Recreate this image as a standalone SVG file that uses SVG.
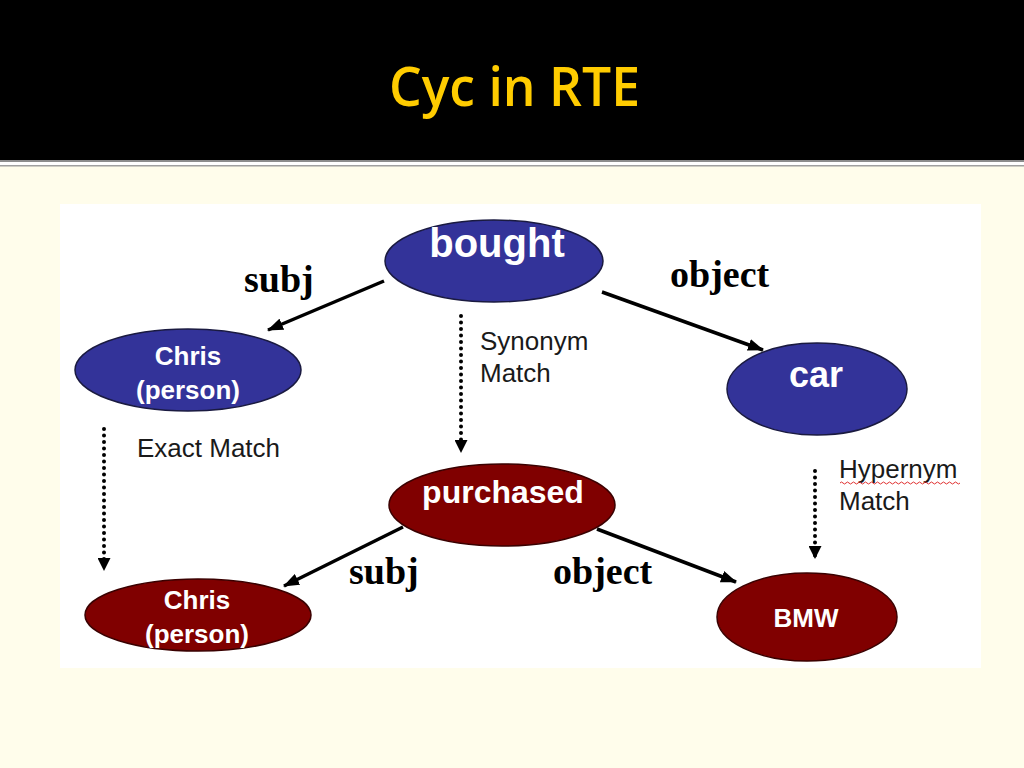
<svg xmlns="http://www.w3.org/2000/svg" width="1024" height="768" viewBox="0 0 1024 768">
<defs>
<style>
.blue{fill:#333399;stroke:#1a1a40;stroke-width:1.5}
.red{fill:#800000;stroke:#3a0000;stroke-width:1.5}
.nt{font-family:"Liberation Sans",Arial,sans-serif;font-weight:bold;fill:#ffffff;text-anchor:middle}
.rel{font-family:"Liberation Serif","Times New Roman",serif;font-weight:bold;font-size:38px;fill:#000000}
.note{font-family:"Liberation Sans",Arial,sans-serif;font-size:26px;fill:#1a1a1a}
.solid{stroke:#000000;stroke-width:3.5;fill:none;marker-end:url(#ah)}
.dot{stroke:#000000;stroke-width:4;fill:none;stroke-dasharray:0 6.5;stroke-linecap:round;marker-end:url(#dh)}
</style>
<marker id="ah" viewBox="0 0 16 12" refX="15" refY="6" markerWidth="16" markerHeight="12" markerUnits="userSpaceOnUse" orient="auto">
<path d="M0,0 L16,6 L0,12 Z" fill="#000000"/>
</marker>
<marker id="dh" viewBox="0 0 13 13" refX="12" refY="6.5" markerWidth="13" markerHeight="13" markerUnits="userSpaceOnUse" orient="auto">
<path d="M0,0 L13,6.5 L0,13 Z" fill="#000000"/>
</marker>
</defs>
<rect x="0" y="0" width="1024" height="768" fill="#fffdeb"/>
<rect x="0" y="0" width="1024" height="160" fill="#000000"/>
<rect x="0" y="160" width="1024" height="2" fill="#8c8c8c"/>
<rect x="0" y="162" width="1024" height="3" fill="#ffffff"/>
<rect x="0" y="165" width="1024" height="1.5" fill="#a0a0a0"/>
<text x="389" y="106" font-family="'Open Sans','Noto Sans',sans-serif" font-size="54" font-weight="600" fill="#ffcc00" textLength="251" lengthAdjust="spacingAndGlyphs">Cyc in RTE</text>
<rect x="60" y="204" width="921" height="464" fill="#ffffff"/>

<g id="connectors">
<line class="solid" x1="384" y1="281" x2="268" y2="330"/>
<line class="solid" x1="602" y1="292" x2="763" y2="350"/>
<line class="solid" x1="403" y1="527" x2="284" y2="586"/>
<line class="solid" x1="597" y1="529" x2="736" y2="582"/>
<line class="dot" x1="461" y1="316" x2="461" y2="452"/>
<line class="dot" x1="104" y1="429" x2="104" y2="570"/>
<line class="dot" x1="815" y1="471" x2="815" y2="558"/>
</g>

<g id="labels">
<text class="rel" x="244" y="292">subj</text>
<text class="rel" x="670" y="287">object</text>
<text class="rel" x="349" y="584">subj</text>
<text class="rel" x="553" y="584">object</text>
<text class="note" x="480" y="350">Synonym</text>
<text class="note" x="480" y="382">Match</text>
<text class="note" x="137" y="457">Exact Match</text>
<text class="note" x="839" y="478">Hypernym</text>
<text class="note" x="839" y="510">Match</text>
<path d="M840,483 q1.5,-2 3,0 t3,0 t3,0 t3,0 t3,0 t3,0 t3,0 t3,0 t3,0 t3,0 t3,0 t3,0 t3,0 t3,0 t3,0 t3,0 t3,0 t3,0 t3,0 t3,0 t3,0 t3,0 t3,0 t3,0 t3,0 t3,0 t3,0 t3,0 t3,0 t3,0 t3,0 t3,0 t3,0 t3,0 t3,0 t3,0 t3,0 t3,0 t3,0 t3,0" fill="none" stroke="#e03030" stroke-width="1"/>
</g>

<g id="node-bought">
<ellipse class="blue" cx="494" cy="261" rx="109" ry="41"/>
<text class="nt" x="497" y="257" font-size="40">bought</text>
</g>
<g id="node-chris-top">
<ellipse class="blue" cx="188" cy="370" rx="113" ry="41"/>
<text class="nt" x="188" y="365" font-size="26">Chris</text>
<text class="nt" x="188" y="399" font-size="26">(person)</text>
</g>
<g id="node-car">
<ellipse class="blue" cx="817" cy="389" rx="90" ry="46"/>
<text class="nt" x="816" y="387" font-size="36">car</text>
</g>
<g id="node-purchased">
<ellipse class="red" cx="502" cy="505" rx="113" ry="41"/>
<text class="nt" x="503" y="503" font-size="32">purchased</text>
</g>
<g id="node-chris-bottom">
<ellipse class="red" cx="198" cy="615" rx="113" ry="36"/>
<text class="nt" x="197" y="609" font-size="26">Chris</text>
<text class="nt" x="197" y="643" font-size="26">(person)</text>
</g>
<g id="node-bmw">
<ellipse class="red" cx="807" cy="617" rx="90" ry="44"/>
<text class="nt" x="806" y="627" font-size="26">BMW</text>
</g>
</svg>
